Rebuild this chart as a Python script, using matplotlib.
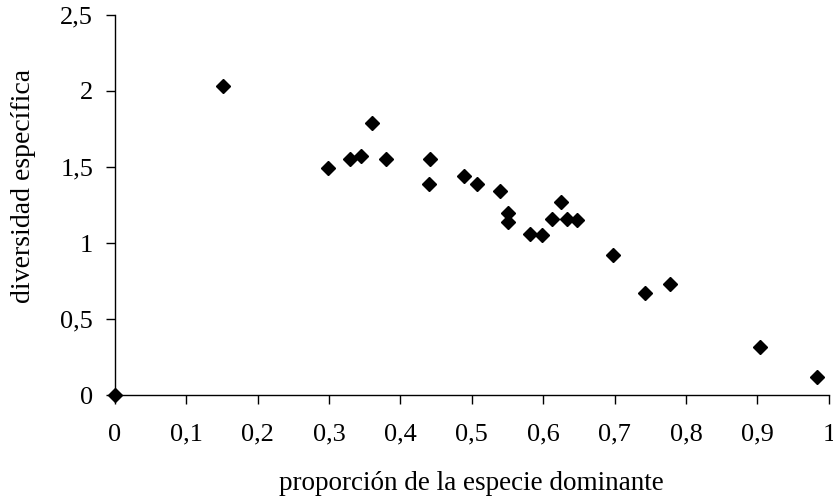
import matplotlib
matplotlib.use("Agg")
import matplotlib.pyplot as plt
from matplotlib.ticker import FuncFormatter

prop_dominante = [0.0, 0.151, 0.298, 0.330, 0.345, 0.360, 0.380, 0.440, 0.442, 0.489,
                  0.507, 0.539, 0.551, 0.551, 0.581, 0.598, 0.612, 0.625, 0.633, 0.648,
                  0.698, 0.742, 0.778, 0.904, 0.984]
diversidad = [0.0, 2.03, 1.49, 1.55, 1.57, 1.79, 1.55, 1.39, 1.55, 1.44,
              1.39, 1.34, 1.20, 1.14, 1.06, 1.05, 1.16, 1.27, 1.16, 1.15,
              0.92, 0.67, 0.73, 0.32, 0.12]
x_ticks = [0, 0.1, 0.2, 0.3, 0.4, 0.5, 0.6, 0.7, 0.8, 0.9, 1.0]
y_ticks = [0, 0.5, 1.0, 1.5, 2.0, 2.5]

plt.rcParams['font.family'] = ['Liberation Serif', 'DejaVu Serif']

fig = plt.figure(figsize=(8.33, 5.04), dpi=100)
ax = fig.add_axes([0.1377, 0.2157, 0.995 - 0.1377, 0.9708 - 0.2157])

ax.plot(prop_dominante, diversidad, linestyle='none', marker='D', markersize=7.5,
        color='black', clip_on=False, zorder=3)

ax.set_xlim(0, 1)
ax.set_ylim(0, 2.5)
ax.set_xticks(x_ticks)
ax.set_yticks(y_ticks)

fmt = FuncFormatter(lambda v, p: ('%g' % round(v, 2)).replace('.', ','))
ax.xaxis.set_major_formatter(fmt)
ax.yaxis.set_major_formatter(fmt)

for s in ['top', 'right']:
    ax.spines[s].set_visible(False)
for s in ['left', 'bottom']:
    ax.spines[s].set_linewidth(1.0)
    ax.spines[s].set_color('black')

ax.tick_params(axis='both', direction='out', length=6.5, width=1.0, labelsize=19, colors='black')
ax.tick_params(axis='x', pad=14)
ax.tick_params(axis='y', pad=9)

ax.set_xlabel('proporción de la especie dominante', fontsize=19.5)
ax.set_ylabel('diversidad específica', fontsize=20)
ax.xaxis.set_label_coords(0.5, -0.198)
ax.yaxis.set_label_coords(-0.110, 0.55)

fig.savefig('out.png', dpi=100)
